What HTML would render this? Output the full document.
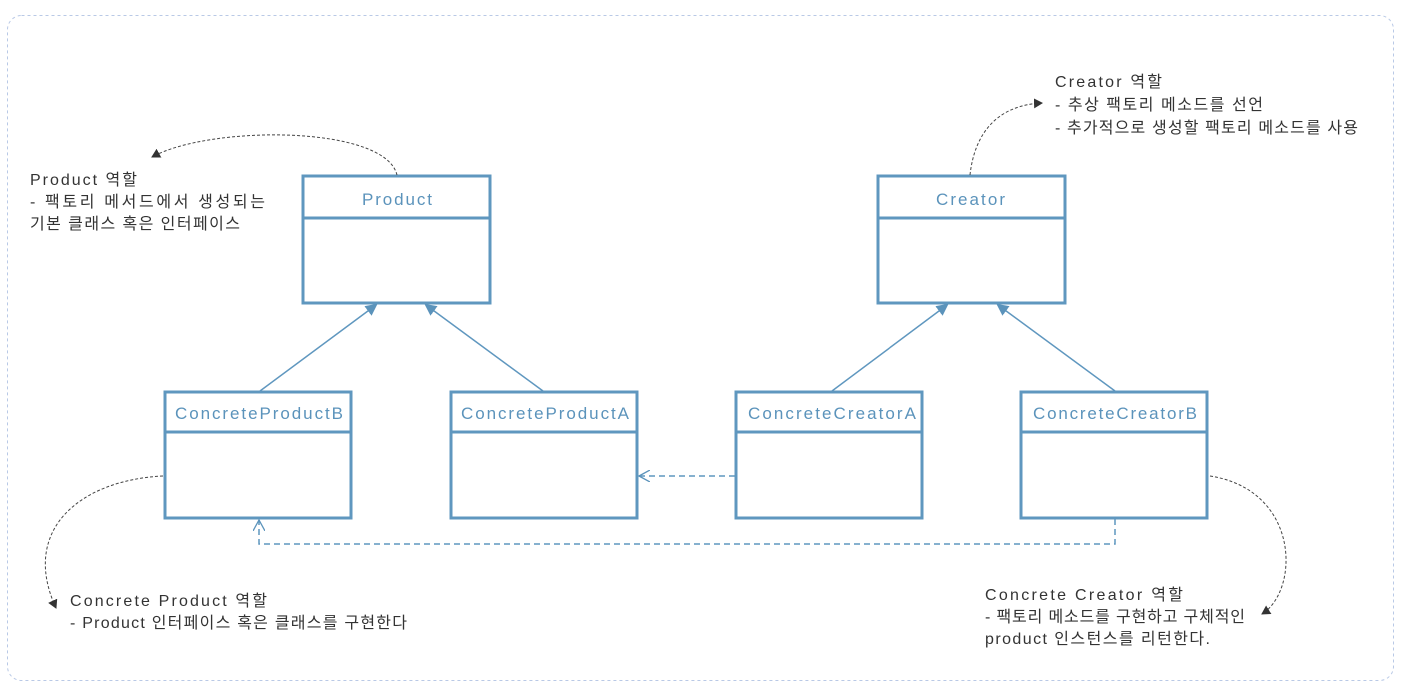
<!DOCTYPE html>
<html><head><meta charset="utf-8"><style>
body{margin:0;background:#fff;}
svg{display:block;}
text{font-family:"Liberation Sans","Noto Sans CJK KR",sans-serif;}
.t{font-size:16px;fill:#333;}
.b{font-size:17px;fill:#5b93bb;}
</style></head><body>
<svg width="1403" height="688" viewBox="0 0 1403 688" xmlns="http://www.w3.org/2000/svg">
<defs>
<marker id="tri" markerWidth="12" markerHeight="12" refX="10" refY="6" orient="auto" markerUnits="userSpaceOnUse"><path d="M0,0 L12,6 L0,12 z" fill="#5b93bb"/></marker>
<marker id="open" markerWidth="12" markerHeight="12" refX="11" refY="6" orient="auto" markerUnits="userSpaceOnUse"><path d="M0,0 L11,6 L0,12" fill="none" stroke="#5b93bb" stroke-width="1.3"/></marker>
<marker id="blk" markerWidth="10" markerHeight="10" refX="8" refY="5" orient="auto" markerUnits="userSpaceOnUse"><path d="M0,0 L9,5 L0,10 z" fill="#333"/></marker>
</defs>
<rect x="7.5" y="15.5" width="1386" height="665" rx="14" fill="none" stroke="#b9c9e6" stroke-dasharray="3,3"/>
<g fill="#fff" stroke="#5f97bf" stroke-width="3">
<rect x="303" y="176" width="187" height="127"/><line x1="303" y1="218" x2="490" y2="218"/>
<rect x="878" y="176" width="187" height="127"/><line x1="878" y1="218" x2="1065" y2="218"/>
<rect x="165" y="392" width="186" height="126"/><line x1="165" y1="432" x2="351" y2="432"/>
<rect x="451" y="392" width="186" height="126"/><line x1="451" y1="432" x2="637" y2="432"/>
<rect x="736" y="392" width="186" height="126"/><line x1="736" y1="432" x2="922" y2="432"/>
<rect x="1021" y="392" width="186" height="126"/><line x1="1021" y1="432" x2="1207" y2="432"/>
</g>
<g class="b" lengthAdjust="spacing">
<text x="362" y="205" textLength="70">Product</text>
<text x="936" y="205" textLength="69">Creator</text>
<text x="175" y="419" textLength="168">ConcreteProductB</text>
<text x="461" y="419" textLength="168">ConcreteProductA</text>
<text x="748" y="419" textLength="168">ConcreteCreatorA</text>
<text x="1033" y="419" textLength="164">ConcreteCreatorB</text>
</g>
<g stroke="#5f97bf" stroke-width="1.5" fill="none">
<line x1="260" y1="391" x2="376" y2="305" marker-end="url(#tri)"/>
<line x1="543" y1="391" x2="426" y2="305" marker-end="url(#tri)"/>
<line x1="832" y1="391" x2="947" y2="305" marker-end="url(#tri)"/>
<line x1="1115" y1="391" x2="998" y2="305" marker-end="url(#tri)"/>
<line x1="735" y1="476" x2="639" y2="476" stroke-dasharray="6,4" marker-end="url(#open)"/>
<polyline points="1115,519 1115,544 259,544 259,520" stroke-dasharray="6,4" marker-end="url(#open)"/>
</g>
<g stroke="#444" stroke-width="1" fill="none" stroke-dasharray="3,2">
<path d="M397,175 C385,125 210,125 152,157" marker-end="url(#blk)"/>
<path d="M970,175 C975,130 1000,105 1042,103" marker-end="url(#blk)"/>
<path d="M163,476 C80,480 20,530 56,608" marker-end="url(#blk)"/>
<path d="M1210,476 C1300,490 1300,590 1262,614" marker-end="url(#blk)"/>
</g>
<g class="t" lengthAdjust="spacing">
<text x="30" y="185" textLength="107">Product 역할</text>
<text x="30" y="207" textLength="235">- 팩토리 메서드에서 생성되는</text>
<text x="30" y="229" textLength="210">기본 클래스 혹은 인터페이스</text>
<text x="1055" y="87" textLength="107">Creator 역할</text>
<text x="1055" y="110" textLength="208">-  추상 팩토리 메소드를 선언</text>
<text x="1055" y="133" textLength="303">-  추가적으로 생성할 팩토리 메소드를 사용</text>
<text x="70" y="606" textLength="197">Concrete Product 역할</text>
<text x="70" y="628" textLength="337">- Product 인터페이스 혹은 클래스를 구현한다</text>
<text x="985" y="600" textLength="198">Concrete Creator 역할</text>
<text x="985" y="622" textLength="260">- 팩토리 메소드를 구현하고 구체적인</text>
<text x="985" y="644" textLength="225">product 인스턴스를 리턴한다.</text>
</g>
</svg>
</body></html>
